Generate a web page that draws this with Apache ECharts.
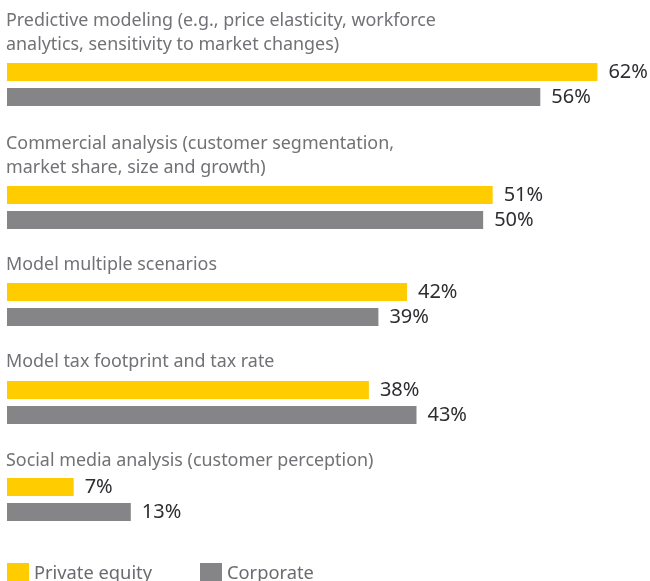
<!DOCTYPE html>
<html><head><meta charset="utf-8">
<script src="https://cdn.jsdelivr.net/npm/echarts@6/dist/echarts.min.js"></script>
<style>html,body{margin:0;padding:0;background:#fff}#c{width:650px;height:581px}</style>
</head><body><div id="c"></div>
<script>
const categories = [
  "Predictive modeling (e.g., price elasticity, workforce\nanalytics, sensitivity to market changes)",
  "Commercial analysis (customer segmentation,\nmarket share, size and growth)",
  "Model multiple scenarios",
  "Model tax footprint and tax rate",
  "Social media analysis (customer perception)"
];
const privateEquity = [62, 51, 42, 38, 7];
const corporate = [56, 50, 39, 43, 13];
const seriesNames = ["Private equity", "Corporate"];

const FONT = "Noto Sans";
const YELLOW = "#ffcc00", GRAY = "#858587";
const labelTops = [9, 132, 253, 350, 449];
const gridTops = [63, 186, 283, 381, 478];

const titles = [], grids = [], xAxes = [], yAxes = [], series = [];
categories.forEach((cat, i) => {
  titles.push({text: cat, left: 6, top: labelTops[i], padding: 0,
    textStyle: {fontFamily: FONT, fontSize: 17.9, fontWeight: 'normal', color: '#717176', lineHeight: 24}});
  grids.push({left: 7, width: 619, top: gridTops[i], height: 43});
  xAxes.push({gridIndex: i, type: 'value', min: 0, max: 65, show: false});
  yAxes.push({gridIndex: i, type: 'category', data: [cat], inverse: true, show: false});
  [privateEquity, corporate].forEach((arr, s) => {
    series.push({
      type: 'bar', name: seriesNames[s], xAxisIndex: i, yAxisIndex: i,
      data: [arr[i]], barWidth: 18, barGap: '39%',
      itemStyle: {color: s === 0 ? YELLOW : GRAY},
      label: {show: true, position: 'right', distance: 11, formatter: '{c}%',
        fontFamily: FONT, fontSize: 20, color: '#2e2e32'},
      silent: true, animation: false
    });
  });
});

const legendStyle = {fontFamily: FONT, fontSize: 18.3, color: '#6a6a70'};
const chart = echarts.init(document.getElementById('c'));
chart.setOption({
  animation: false,
  title: titles,
  grid: grids, xAxis: xAxes, yAxis: yAxes, series: series,
  legend: [
    {data: [seriesNames[0]], left: 7, top: 563, padding: 0, itemWidth: 22, itemHeight: 22, itemGap: 0,
     icon: 'rect', textStyle: legendStyle, selectedMode: false},
    {data: [seriesNames[1]], left: 200, top: 563, padding: 0, itemWidth: 22, itemHeight: 22, itemGap: 0,
     icon: 'rect', textStyle: legendStyle, selectedMode: false}
  ]
});
</script></body></html>
